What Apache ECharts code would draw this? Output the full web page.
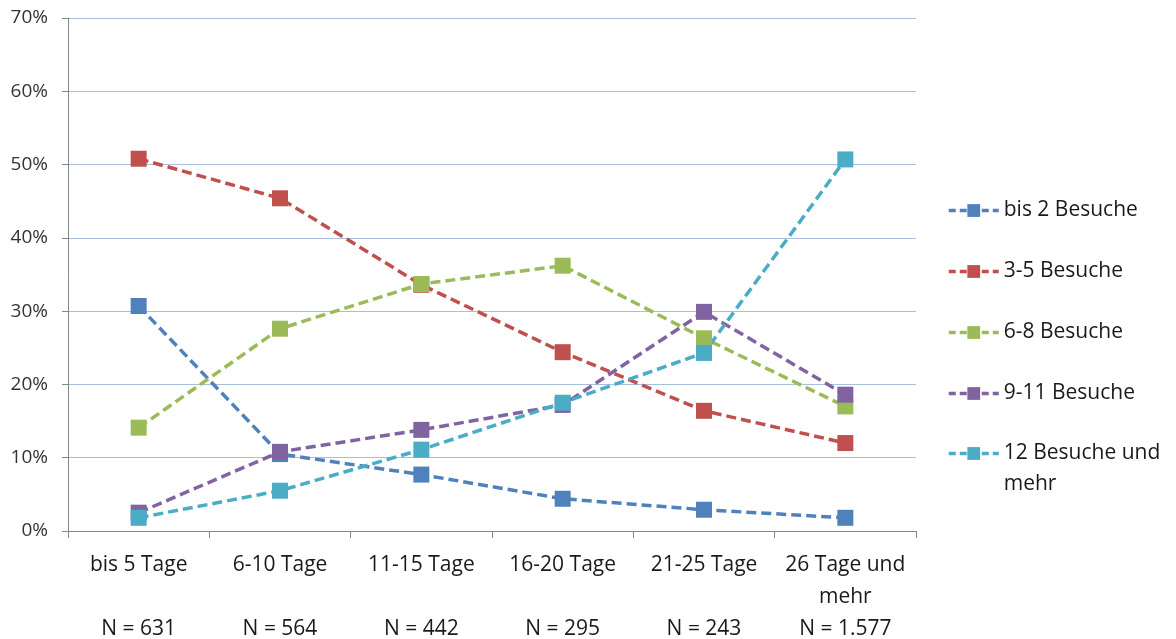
<!DOCTYPE html>
<html>
<head>
<meta charset="utf-8">
<script src="https://cdn.jsdelivr.net/npm/echarts@6/dist/echarts.min.js"></script>
<style>html,body{margin:0;padding:0;background:#fff}#c{width:1176px;height:639px}</style>
</head>
<body>
<div id="c"></div>
<script>
var categories = ['bis 5 Tage', '6-10 Tage', '11-15 Tage', '16-20 Tage', '21-25 Tage', '26 Tage und mehr'];
var categoryLines = ['bis 5 Tage\n', '6-10 Tage\n', '11-15 Tage\n', '16-20 Tage\n', '21-25 Tage\n', '26 Tage und\nmehr'];
var nLabels = ['N = 631', 'N = 564', 'N = 442', 'N = 295', 'N = 243', 'N = 1.577'];
var yTicks = [0, 10, 20, 30, 40, 50, 60, 70];

var seriesNames = ['bis 2 Besuche', '3-5 Besuche', '6-8 Besuche', '9-11 Besuche', '12 Besuche und mehr'];
var bis2 = [30.7, 10.5, 7.7, 4.4, 2.9, 1.8];
var b3_5 = [50.8, 45.4, 33.6, 24.4, 16.4, 12.0];
var b6_8 = [14.1, 27.6, 33.7, 36.2, 26.3, 17.0];
var b9_11 = [2.5, 10.8, 13.8, 17.2, 29.9, 18.6];
var b12 = [1.8, 5.5, 11.1, 17.5, 24.3, 50.7];

var colors = ['#4F81BD', '#C0504D', '#9BBB59', '#8064A2', '#4BACC6'];
var values = [bis2, b3_5, b6_8, b9_11, b12];
var font = 'Open Sans';

var chart = echarts.init(document.getElementById('c'), null, {renderer: 'canvas'});
var series = seriesNames.map(function (n, i) {
  return {
    name: n,
    type: 'line',
    data: values[i],
    symbol: 'rect',
    symbolSize: 16,
    color: colors[i],
    lineStyle: {color: colors[i], width: 3.5, type: [10, 5]},
    itemStyle: {color: colors[i]},
    emphasis: {disabled: true},
    animation: false
  };
});

var legendText = {fontFamily: font, fontSize: 21, color: '#1a1a1a', lineHeight: 31};
var legendLine = {width: 3.5, type: [7, 4]};

chart.setOption({
  animation: false,
  grid: {left: 68, right: 260, top: 18, bottom: 108, containLabel: false, outerBoundsMode: 'none'},
  xAxis: {
    type: 'category',
    data: categories,
    boundaryGap: true,
    axisLine: {lineStyle: {color: '#868686', width: 1}},
    axisTick: {show: true, length: 7, lineStyle: {color: '#868686'}},
    axisLabel: {
      interval: 0, margin: 18, lineHeight: 32,
      fontFamily: font, fontSize: 21, color: '#1a1a1a',
      formatter: function (v, idx) { return categoryLines[idx] + '\n' + nLabels[idx]; }
    },
    splitLine: {show: false}
  },
  yAxis: {
    type: 'value',
    min: yTicks[0], max: yTicks[yTicks.length - 1], interval: 10,
    axisLine: {show: true, lineStyle: {color: '#868686', width: 1}},
    axisTick: {show: true, length: 6, lineStyle: {color: '#868686'}},
    axisLabel: {formatter: '{value}%', fontFamily: font, fontSize: 19, color: '#333333', margin: 20},
    splitLine: {show: true, lineStyle: {color: '#A9BEDB', width: 1}}
  },
  legend: [{
    orient: 'vertical',
    left: 947, top: 195, padding: 0,
    itemWidth: 50, itemHeight: 16,
    itemGap: 30,
    textStyle: legendText,
    lineStyle: legendLine,
    data: seriesNames.slice(0, 4)
  }, {
    orient: 'vertical',
    left: 947, top: 407, padding: 0,
    itemWidth: 50, itemHeight: 16,
    textStyle: legendText,
    lineStyle: legendLine,
    data: seriesNames.slice(4),
    formatter: function (n) { return '\n12 Besuche und\nmehr'; }
  }],
  series: series
});
</script>
</body>
</html>
